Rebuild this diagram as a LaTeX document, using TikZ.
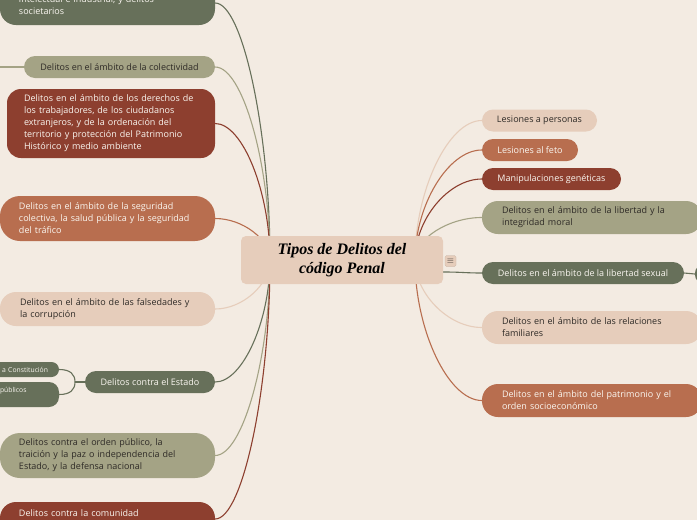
\documentclass[tikz,border=0pt]{standalone}
\usepackage{fontspec}
\setmainfont{Open Sans}
\newfontfamily\titlefont{Liberation Serif}
\usetikzlibrary{calc,backgrounds}
\definecolor{bg}{HTML}{F3EBE2}
\definecolor{olive}{HTML}{67705A}
\definecolor{sage}{HTML}{A4A385}
\definecolor{wine}{HTML}{8D3F2F}
\definecolor{terra}{HTML}{B86E4F}
\definecolor{peach}{HTML}{E6CDBB}
\definecolor{ink}{HTML}{2E2A26}
\definecolor{paper}{HTML}{FAF6F0}
\begin{document}
\begin{tikzpicture}[x=1pt,y=-1pt,
  box/.style={inner ysep=0pt, font=\fontsize{9}{12}\selectfont, align=left},
  pill/.style={box, rounded corners=11pt, minimum height=22pt, align=center, inner xsep=0pt},
  small/.style={inner ysep=0pt, font=\fontsize{6.8}{9}\selectfont},
  fo/.style={fill=olive, text=paper},
  fs/.style={fill=sage, text=ink},
  fw/.style={fill=wine, text=paper},
  ft/.style={fill=terra, text=paper},
  fp/.style={fill=peach, text=ink},
  conn/.style={line width=1.1pt},
  branch/.style={to path={let \p1=(\tikztostart), \p2=(\tikztotarget), \p3=($(\p1)!0.5!(\p2)$) in .. controls (\x1,\y3) and (\x3,\y2) .. (\tikztotarget)}}
]
\useasboundingbox (0,0) rectangle (697,520);
\begin{scope}[on background layer]
  \fill[bg] (0,0) rectangle (697,520);
\end{scope}

% hubs
\coordinate (hubL) at (270,260);
\coordinate (hubR) at (415,260);
\coordinate (hubS) at (443,272);
\coordinate (colL) at (-3,67);
\coordinate (estJ) at (75,382);

% left side
\node[box, fo, rounded corners=16pt, text width=177pt, inner xsep=19pt, minimum height=44pt] (top) at (107.5,3)
  {\mbox{}\\intelectual e industrial, y delitos\\societarios};
\node[pill, fs, minimum width=191pt] (colect) at (119.5,67) {Delitos en el ámbito de la colectividad};
\node[box, fw, rounded corners=14pt, text width=174pt, inner xsep=17pt, minimum height=69pt] (derechos) at (111,123.5)
  {Delitos en el ámbito de los derechos de\\los trabajadores, de los ciudadanos\\extranjeros, y de la ordenación del\\territorio y protección del Patrimonio\\Histórico y medio ambiente};
\node[box, ft, rounded corners=20pt, text width=177pt, inner xsep=19pt, minimum height=45pt] (seguridad) at (107.5,218.5)
  {Delitos en el ámbito de la seguridad\\colectiva, la salud pública y la seguridad\\del tráfico};
\node[box, fp, rounded corners=16pt, text width=175pt, inner xsep=20pt, minimum height=34pt] (falsedades) at (107.5,309)
  {Delitos en el ámbito de las falsedades y\\la corrupción};
\node[pill, fo, minimum width=130pt] (estado) at (150,382) {Delitos contra el Estado};
\node[small, fo, rounded corners=7.5pt, text width=77pt, inner xsep=11pt, minimum height=15pt, align=right] (constit) at (9.5,369.5)
  {a Constitución};
\node[small, fo, rounded corners=10pt, text width=99pt, inner xsep=0pt, minimum height=25pt, align=left] (publicos) at (9.5,394.5)
  {\hspace*{40pt}públicos\\\mbox{}};
\node[box, fs, rounded corners=20pt, text width=177pt, inner xsep=19pt, minimum height=45pt] (orden) at (107.5,455.5)
  {Delitos contra el orden público, la\\traición y la paz o independencia del\\Estado, y la defensa nacional};
\node[box, fw, rounded corners=16pt, text width=177pt, inner xsep=19pt, minimum height=34pt] (comunidad) at (107.5,519)
  {Delitos contra la comunidad\\\mbox{}};

% center
\node[fill=peach, rounded corners=5pt, minimum width=202pt, minimum height=48pt, inner sep=0pt, align=center,
  text=black, font=\titlefont\bfseries\itshape\fontsize{16}{19}\selectfont] (center) at (342,260)
  {Tipos de Delitos del\\código Penal};
\node[fill=peach, draw=peach!85!black, line width=0.3pt, rounded corners=1.5pt, minimum size=11pt, inner sep=0pt,
  text=ink, font=\fontsize{9}{9}\selectfont] (menu) at (450.5,261) {$\equiv$};

% right side
\node[pill, fp, minimum width=115pt] (lesP) at (539.5,120.5) {Lesiones a personas};
\node[pill, ft, minimum width=96pt] (lesF) at (530,150) {Lesiones al feto};
\node[pill, fw, minimum width=139pt] (manip) at (551.5,179) {Manipulaciones genéticas};
\node[box, fs, rounded corners=16pt, text width=180pt, inner xsep=20pt, minimum height=33pt] (libMor) at (592,217.5)
  {Delitos en el ámbito de la libertad y la\\integridad moral};
\node[pill, fo, minimum width=202pt] (libSex) at (583,273) {Delitos en el ámbito de la libertad sexual};
\node[fo, rounded corners=8pt, minimum width=26pt, minimum height=18pt, inner sep=0pt] (libSexC) at (708,274) {};
\node[box, fp, rounded corners=16pt, text width=180pt, inner xsep=20pt, minimum height=33pt] (famil) at (592,327.5)
  {Delitos en el ámbito de las relaciones\\familiares};
\node[box, ft, rounded corners=16pt, text width=180pt, inner xsep=20pt, minimum height=33pt] (patri) at (592,400.5)
  {Delitos en el ámbito del patrimonio y el\\orden socioeconómico};

% connectors
\begin{scope}[on background layer]
  \draw[conn, olive] (hubL) to[branch] (top.east);
  \draw[conn, sage]  (hubL) to[branch] (colect.east);
  \draw[conn, wine]  (hubL) to[branch] (derechos.east);
  \draw[conn, terra] (hubL) to[branch] (seguridad.east);
  \draw[conn, peach] (hubL) to[branch] (falsedades.east);
  \draw[conn, olive] (hubL) to[branch] (estado.east);
  \draw[conn, sage]  (hubL) to[branch] (orden.east);
  \draw[conn, wine]  (hubL) to[branch] (comunidad.east);
  \draw[conn, sage]  (colect.west) -- (colL);
  \draw[conn, olive] (estado.west) -- (estJ);
  \draw[conn, olive] (estJ) .. controls (75,374) and (70,369.5) .. (constit.east);
  \draw[conn, olive] (estJ) .. controls (75,390) and (70,394.5) .. (publicos.east);
  \draw[conn, peach] (hubR) to[branch] (lesP.west);
  \draw[conn, terra] (hubR) to[branch] (lesF.west);
  \draw[conn, wine]  (hubR) to[branch] (manip.west);
  \draw[conn, sage]  (hubR) to[branch] (libMor.west);
  \draw[conn, olive] (hubS) .. controls (462,272) and (465,273) .. (libSex.west);
  \draw[conn, olive] (libSex.east) -- (libSexC.west);
  \draw[conn, peach] (hubR) to[branch] (famil.west);
  \draw[conn, terra] (hubR) to[branch] (patri.west);
\end{scope}
\end{tikzpicture}
\end{document}
